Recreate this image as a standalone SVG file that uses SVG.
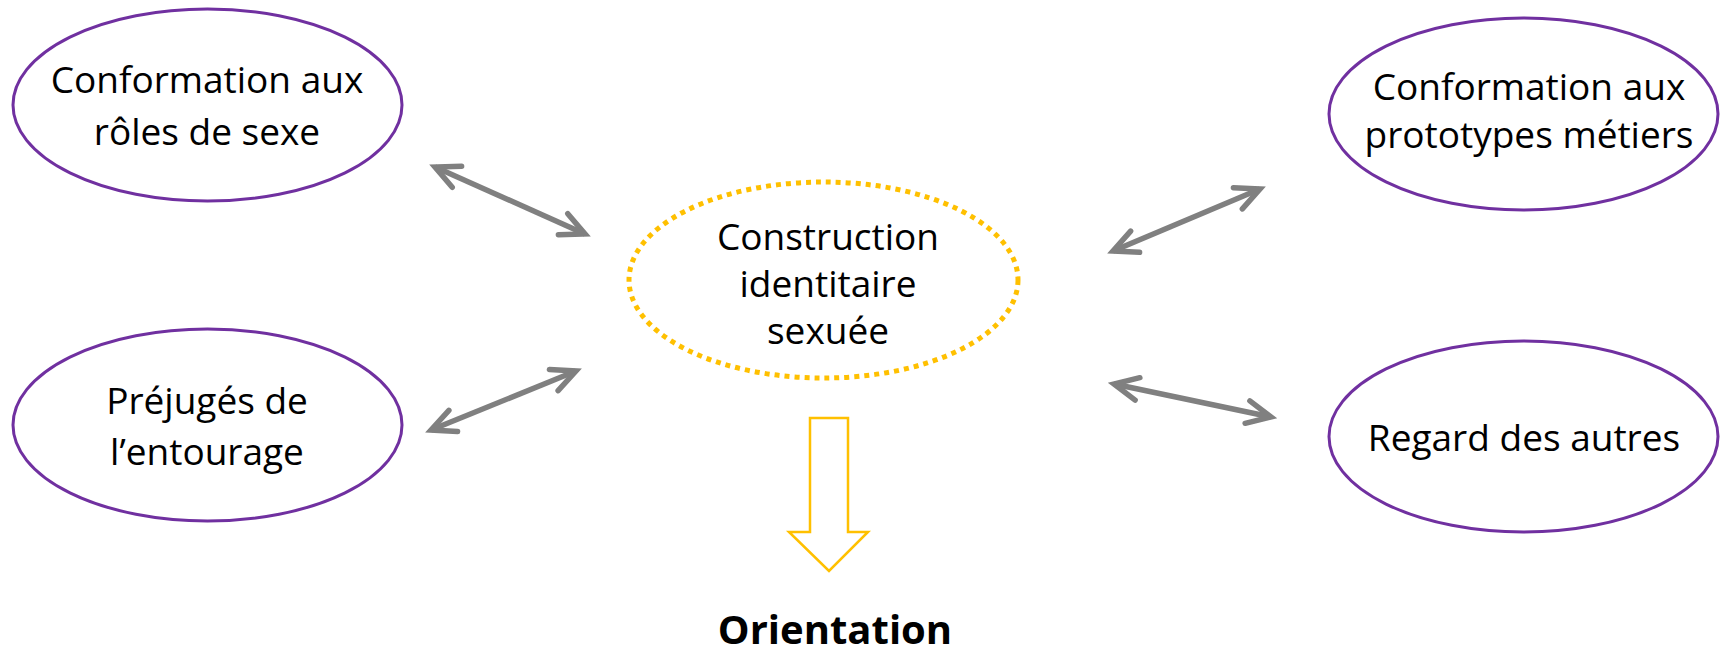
<svg xmlns="http://www.w3.org/2000/svg" width="1721" height="654" viewBox="0 0 1721 654">
<style>
.node ellipse.p{fill:#fff;stroke:#7030A0;stroke-width:3}
.t{font-family:"Open Sans","Liberation Sans",sans-serif;font-size:37px;fill:#000;text-anchor:middle}
.b{font-family:"Open Sans","Liberation Sans",sans-serif;font-size:40px;font-weight:bold;fill:#000;text-anchor:middle}
.c{stroke:#808080;stroke-width:5.5;fill:none;marker-start:url(#ah);marker-end:url(#ah)}
</style>
<defs>
<marker id="ah" markerUnits="userSpaceOnUse" orient="auto-start-reverse" overflow="visible" markerWidth="40" markerHeight="40" refX="0" refY="0">
<path d="M-24,-11.5 L0,0 L-24,11.5" fill="none" stroke="#808080" stroke-width="5.5" stroke-linecap="round" stroke-linejoin="miter"/>
</marker>
</defs>
<rect width="1721" height="654" fill="#fff"/>
<g id="n-roles" class="node">
<ellipse class="p" cx="207.5" cy="105" rx="194.5" ry="96"/>
<text class="t" x="207" y="93">Conformation aux</text>
<text class="t" x="207" y="145">rôles de sexe</text>
</g>
<g id="n-prejuges" class="node">
<ellipse class="p" cx="207.5" cy="425" rx="194.5" ry="96"/>
<text class="t" x="207" y="414">Préjugés de</text>
<text class="t" x="207" y="465">l’entourage</text>
</g>
<g id="n-prototypes" class="node">
<ellipse class="p" cx="1523.5" cy="114" rx="194.5" ry="96"/>
<text class="t" x="1529" y="100">Conformation aux</text>
<text class="t" x="1529" y="148">prototypes métiers</text>
</g>
<g id="n-regard" class="node">
<ellipse class="p" cx="1523.5" cy="436.5" rx="194.5" ry="95.5"/>
<text class="t" x="1524" y="451">Regard des autres</text>
</g>
<g id="n-construction" class="node">
<ellipse cx="823.5" cy="280" rx="194.5" ry="98" fill="none" stroke="#FFC000" stroke-width="5" stroke-dasharray="5 5"/>
<text class="t" x="828" y="250">Construction</text>
<text class="t" x="828" y="297">identitaire</text>
<text class="t" x="828" y="344">sexuée</text>
</g>
<g id="n-orientation" class="node">
<path d="M810,418 L848,418 L848,532 L868,532 L829,571 L789,532 L810,532 Z" fill="#fff" stroke="#FFC000" stroke-width="2.5"/>
<text class="b" x="835" y="644">Orientation</text>
</g>
<g id="connectors">
<line class="c" x1="435" y1="167" x2="585" y2="234"/>
<line class="c" x1="431" y1="430" x2="576" y2="371"/>
<line class="c" x1="1113" y1="251" x2="1260" y2="189"/>
<line class="c" x1="1114" y1="384" x2="1271" y2="417"/>
</g>
</svg>
